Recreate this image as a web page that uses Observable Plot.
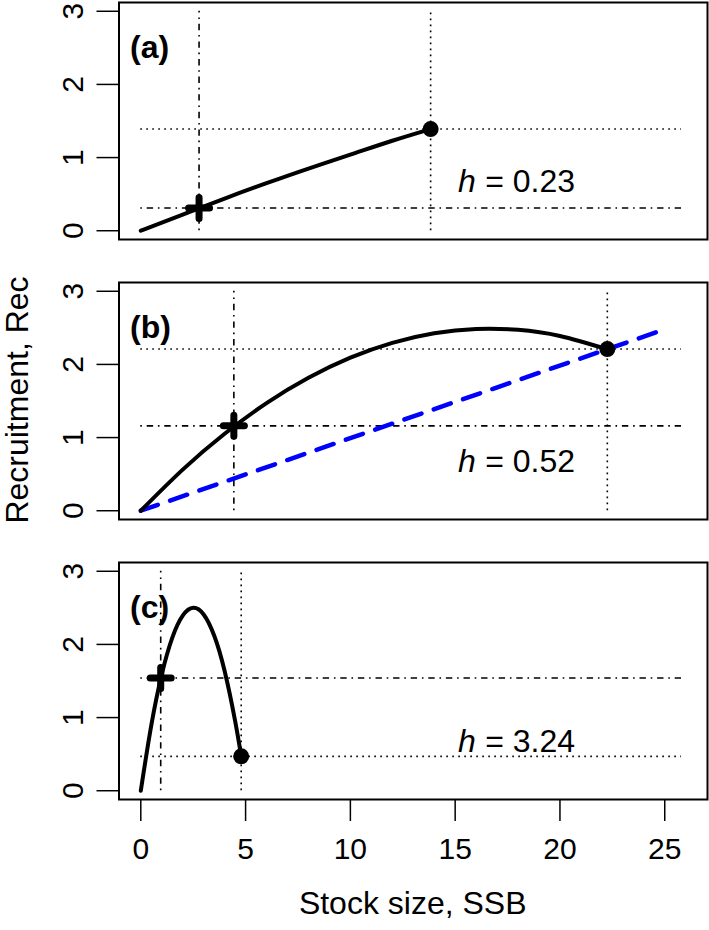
<!DOCTYPE html>
<html><head><meta charset="utf-8">
<script src="https://cdn.jsdelivr.net/npm/d3@7"></script>
<script src="https://cdn.jsdelivr.net/npm/@observablehq/plot@0.6"></script>
<style>body{margin:0;background:#fff}</style>
</head><body><div id="chart"></div>
<script>
// ---- data ----
const panels = ["a", "b", "c"];
const hValues = ["0.23", "0.52", "3.24"];
const xTicks = [0, 5, 10, 15, 20, 25];
const yTicks = [0, 1, 2, 3];

const ssbA = [0, 2, 4, 6, 8, 10, 12, 13.83];
const recA = [0, 0.22, 0.44, 0.65, 0.85, 1.04, 1.23, 1.39];
const ssbB = [0, 2, 4, 6, 8, 10, 12, 14, 16, 18, 20, 22.26];
const recB = [0, 0.562, 1.052, 1.471, 1.817, 2.092, 2.295, 2.426, 2.485, 2.473, 2.388, 2.206];
const ssbC = [0, 0.5, 1, 1.5, 2, 2.5, 3, 3.5, 4, 4.5, 4.79];
const recC = [0, 0.894, 1.590, 2.090, 2.393, 2.500, 2.409, 2.122, 1.637, 0.956, 0.471];

const crossSSB = [2.78, 4.44, 0.95];
const crossRec = [0.31, 1.16, 1.54];
const dotSSB = [13.83, 22.26, 4.79];
const dotRec = [1.39, 2.21, 0.47];

const lineSSB = [0, 24.6];
const lineRec = [0, 2.44];

const refXmax = 25.8;   // right end of horizontal reference lines
const refYmax = 3;      // top end of vertical reference lines
const hLabelX = 15.14, eqLabelX = 16.43, hLabelY = 0.525;

// ---- tables ----
const curveSSB = [ssbA, ssbB, ssbC], curveRec = [recA, recB, recC];
const curves = panels.flatMap((p, i) => curveSSB[i].map((s, j) => ({panel: p, ssb: s, rec: curveRec[i][j]})));
const refs = panels.map((p, i) => ({panel: p, cx: crossSSB[i], cy: crossRec[i], dx: dotSSB[i], dy: dotRec[i], h: hValues[i]}));
const blue = lineSSB.map((s, j) => ({panel: "b", ssb: s, rec: lineRec[j]}));

const plusSymbol = {
  draw(ctx, size) {
    const s = Math.sqrt(size / Math.PI);
    ctx.moveTo(-s, 0); ctx.lineTo(s, 0);
    ctx.moveTo(0, -s); ctx.lineTo(0, s);
  }
};

const dotted = "1.6,4.4";
const dotdash = "1.6,4.8,6.4,4.8";
const fmt = d => String(d);

const chart = Plot.plot({
  width: 709,
  height: 930,
  marginLeft: 118.5,
  marginRight: 2,
  marginTop: 1,
  marginBottom: 129,
  style: {fontFamily: "'Liberation Sans', Arial, Helvetica, sans-serif", fontSize: "30px", color: "black", background: "white", overflow: "visible"},
  x: {domain: [-1.04, 27.04], label: null},
  y: {domain: [-0.12, 3.12], label: null},
  fy: {domain: panels, paddingInner: 0.153, paddingOuter: 0, axis: null, label: null},
  marks: [
    Plot.axisY(yTicks, {tickSize: 22, tickRotate: -90, tickPadding: 14, tickFormat: fmt, fontSize: 30, strokeWidth: 1.5, label: null}),
    Plot.axisX(xTicks, {tickSize: 22, tickPadding: 16, tickFormat: fmt, fontSize: 30, strokeWidth: 1.5, label: null}),
    Plot.ruleX(refs, {x: "cx", y1: 0, y2: refYmax, fy: "panel", stroke: "black", strokeWidth: 1.6, strokeDasharray: dotdash}),
    Plot.ruleX(refs, {x: "dx", y1: 0, y2: refYmax, fy: "panel", stroke: "black", strokeWidth: 1.6, strokeDasharray: dotted}),
    Plot.ruleY(refs, {y: "cy", x1: 0, x2: refXmax, fy: "panel", stroke: "black", strokeWidth: 1.6, strokeDasharray: dotdash}),
    Plot.ruleY(refs, {y: "dy", x1: 0, x2: refXmax, fy: "panel", stroke: "black", strokeWidth: 1.6, strokeDasharray: dotted}),
    Plot.line(blue, {x: "ssb", y: "rec", fy: "panel", stroke: "#0000ff", strokeWidth: 4.5, strokeDasharray: "18,13"}),
    Plot.line(curves, {x: "ssb", y: "rec", fy: "panel", z: "panel", curve: "natural", stroke: "black", strokeWidth: 4, strokeLinecap: "round", strokeLinejoin: "round"}),
    Plot.dot(refs, {x: "dx", y: "dy", fy: "panel", r: 8, fill: "black", stroke: "none"}),
    Plot.dot(refs, {x: "cx", y: "cy", fy: "panel", r: 10.5, symbol: plusSymbol, stroke: "black", fill: "none", strokeWidth: 7, strokeLinecap: "round"}),
    Plot.text(refs, {x: hLabelX, y: hLabelY, fy: "panel", text: () => "h", fontStyle: "italic", fontSize: 32, textAnchor: "start", lineAnchor: "bottom"}),
    Plot.text(refs, {x: eqLabelX, y: hLabelY, fy: "panel", text: d => "= " + d.h, fontSize: 32, textAnchor: "start", lineAnchor: "bottom"}),
    Plot.text(refs, {fy: "panel", text: d => `(${d.panel})`, frameAnchor: "top-left", dx: 11, dy: 45, lineAnchor: "middle", textAnchor: "start", fontWeight: "bold", fontSize: 32}),
    Plot.frame({stroke: "black", strokeWidth: 2})
  ]
});

const svg = d3.select(chart);
svg.append("text")
  .attr("transform", "translate(28,400) rotate(-90)")
  .attr("text-anchor", "middle")
  .attr("font-size", 32)
  .attr("fill", "black")
  .text("Recruitment, Rec");
svg.append("text")
  .attr("x", 412.7)
  .attr("y", 914)
  .attr("text-anchor", "middle")
  .attr("font-size", 32)
  .attr("fill", "black")
  .text("Stock size, SSB");

document.getElementById("chart").appendChild(chart);
</script>
</body></html>
